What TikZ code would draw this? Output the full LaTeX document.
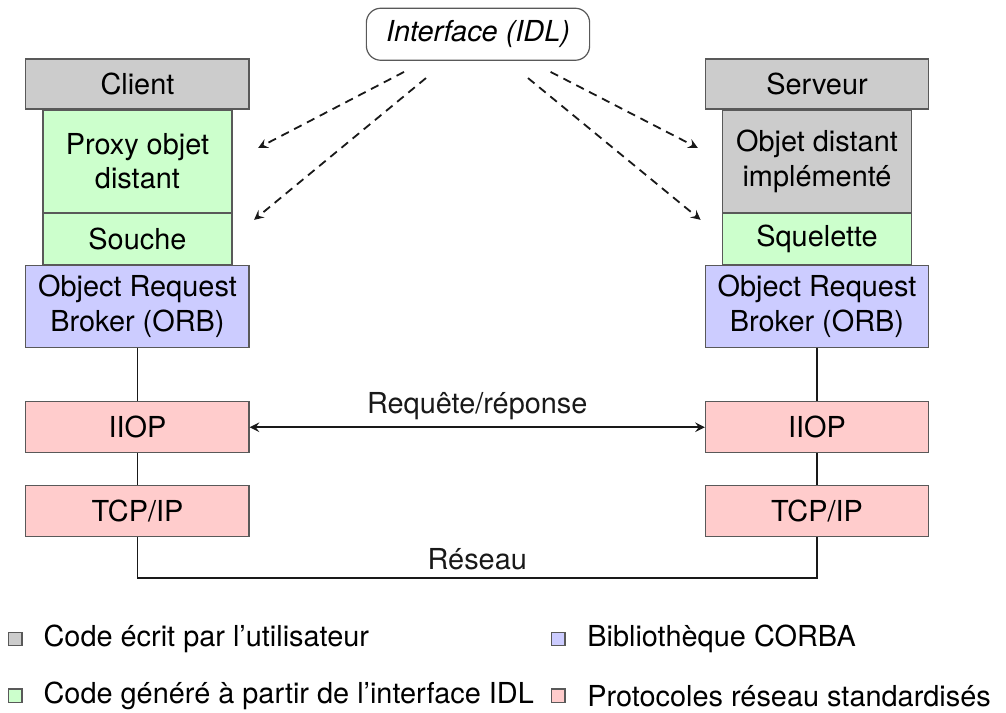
\documentclass[tikz,border=0pt,12pt]{standalone}
\usepackage{fontspec}
\setmainfont{TeX Gyre Heros}
\usepackage{tikz}
\usetikzlibrary{positioning,calc,arrows}
\definecolor{userc}{HTML}{CCCCCC}
\definecolor{genc}{HTML}{CCFFCC}
\definecolor{libc}{HTML}{CCCCFF}
\definecolor{netc}{HTML}{FFCCCC}
\tikzstyle{couche} = [draw=black!65, line width=0.5pt, minimum width=3.26cm, minimum height=0.745cm, inner sep=0pt, align=center]
\tikzstyle{souscouche} = [couche, minimum width=2.76cm]
\tikzstyle{lien} = [black!90, line width=0.75pt]
\tikzstyle{idlarrow} = [lien, dash pattern=on 3.5pt off 2.5pt, ->, >=stealth]
\tikzstyle{puce} = [draw=black!65, line width=0.5pt, minimum size=0.2cm, inner sep=0pt]
\tikzstyle{legende} = [anchor=west, inner sep=0pt]

\begin{document}
\begin{tikzpicture}
    \useasboundingbox (0,0) rectangle (14.69,-10.41);
    % interface
    \node[couche, rounded corners=6pt, minimum height=0.76cm, fill=white] (idl) at (6.98,-0.50) {\itshape Interface (IDL)};
    % client side
    \node[couche, fill=userc, minimum height=0.73cm] (client) at (2.007,-1.226) {Client};
    \node[souscouche, fill=genc, minimum height=1.49cm, below=0pt of client] (proxy) {Proxy objet\\distant};
    \node[souscouche, fill=genc, below=0pt of proxy] (souche) {Souche};
    \node[couche, fill=libc, minimum height=1.2cm, below=0pt of souche] (orbc) {Object Request\\Broker (ORB)};
    \node[couche, fill=netc, below=0.77cm of orbc] (iiopc) {IIOP};
    \node[couche, fill=netc, below=0.46cm of iiopc] (tcpc) {TCP/IP};
    % server side
    \node[couche, fill=userc, minimum height=0.73cm] (serveur) at (11.93,-1.226) {Serveur};
    \node[souscouche, fill=userc, minimum height=1.49cm, below=0pt of serveur] (objet) {Objet distant\\implémenté};
    \node[souscouche, fill=genc, below=0pt of objet] (squelette) {Squelette};
    \node[couche, fill=libc, minimum height=1.2cm, below=0pt of squelette] (orbs) {Object Request\\Broker (ORB)};
    \node[couche, fill=netc, below=0.77cm of orbs] (iiops) {IIOP};
    \node[couche, fill=netc, below=0.46cm of iiops] (tcps) {TCP/IP};
    % links
    \draw[lien] (orbc) -- (iiopc) (iiopc) -- (tcpc);
    \draw[lien] (orbs) -- (iiops) (iiops) -- (tcps);
    \draw[lien, <->, >=stealth] (iiopc) -- node[above=-0.05cm] {Requête/réponse} (iiops);
    \coordinate (reseau) at (0,-8.44);
    \draw[lien] (tcpc.south) |- (reseau -| tcps.south) node[pos=0.75, above=-0.03cm] {Réseau} -- (tcps.south);
    % dashed arrows
    \coordinate (a1) at (5.90,-1.05); \coordinate (b1) at (3.77,-2.16);
    \coordinate (a2) at (6.22,-1.14); \coordinate (b2) at (3.71,-3.21);
    \coordinate (a3) at (8.04,-1.05); \coordinate (b3) at (10.19,-2.16);
    \coordinate (a4) at (7.71,-1.14); \coordinate (b4) at (10.23,-3.21);
    \draw[idlarrow] (a1) -- (b1);
    \draw[idlarrow] (a2) -- (b2);
    \draw[idlarrow] (a3) -- (b3);
    \draw[idlarrow] (a4) -- (b4);
    % legend
    \node[puce, fill=userc] (l1) at (0.22,-9.33) {};
    \node[legende] at (0.63,-9.33) {Code écrit par l’utilisateur};
    \node[puce, fill=genc] (l2) at (0.22,-10.16) {};
    \node[legende] at (0.63,-10.16) {Code généré à partir de l’interface IDL};
    \node[puce, fill=libc] (l3) at (8.15,-9.33) {};
    \node[legende] at (8.57,-9.33) {Bibliothèque CORBA};
    \node[puce, fill=netc] (l4) at (8.15,-10.16) {};
    \node[legende] at (8.57,-10.16) {Protocoles réseau standardisés};
\end{tikzpicture}
\end{document}
